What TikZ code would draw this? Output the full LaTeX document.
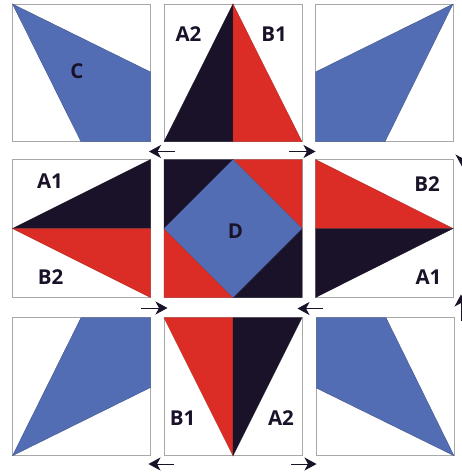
\documentclass[tikz,border=0pt]{standalone}
\usepackage{fontspec}
\setmainfont{Open Sans}
\usetikzlibrary{arrows.meta}
\definecolor{qblue}{HTML}{536DB5}
\definecolor{qred}{HTML}{DB2D26}
\definecolor{qdark}{HTML}{191228}
\definecolor{qgray}{HTML}{A8A8A8}
\tikzset{
  x=1pt,y=-1pt,
  cell/.style={draw=qgray,line width=0.9pt,fill=white},
  blue/.style={fill=qblue,draw=qblue!70!black,line width=0.3pt},
  red/.style={fill=qred,draw=qred!80!black,line width=0.3pt},
  dark/.style={fill=qdark,draw=qdark,line width=0.3pt},
  lab/.style={font=\bfseries\fontsize{20.5}{20.5}\selectfont,text=qdark,inner sep=0pt},
  mv/.style={draw=qdark,line width=1pt,-{Stealth[length=12pt,width=13pt,inset=3.5pt]},shorten >=-0.5pt}
}
\begin{document}
\begin{tikzpicture}
\useasboundingbox (0,0) rectangle (462,473);
\clip (0,0) rectangle (462,473);
\coordinate (a1s) at (175,151.5); \coordinate (a1e) at (149.5,151.5);
\coordinate (a2s) at (289,151.5); \coordinate (a2e) at (315,151.5);
\coordinate (a3s) at (141,308); \coordinate (a3e) at (167,308);
\coordinate (a4s) at (323,308.5); \coordinate (a4e) at (298,308.5);
\coordinate (a5s) at (174,464); \coordinate (a5e) at (149,464);
\coordinate (a6s) at (291,464); \coordinate (a6e) at (316,464);
\coordinate (a7s) at (462,140); \coordinate (a7e) at (462,166);
\coordinate (a8s) at (461,321); \coordinate (a8e) at (461,295);
% cells
\draw[cell] (12.5,4) rectangle (150.5,141.7);
\draw[cell] (164,4) rectangle (302,141.7);
\draw[cell] (315.5,4) rectangle (453,141.7);
\draw[cell] (12.5,159.5) rectangle (150.5,297.5);
\draw[cell] (164,159.5) rectangle (302,297.5);
\draw[cell] (315.5,159.5) rectangle (453,297.5);
\draw[cell] (12.5,317.7) rectangle (150.5,455.7);
\draw[cell] (164,317.7) rectangle (302,455.7);
\draw[cell] (316.3,317.7) rectangle (454,455.7);
% corner kites
\fill[blue] (12.5,4) -- (150.5,72) -- (150.5,141.7) -- (81,141.7) -- cycle;
\fill[blue] (453,4) -- (315.5,72) -- (315.5,141.7) -- (385,141.7) -- cycle;
\fill[blue] (12.5,455.7) -- (150.5,387.5) -- (150.5,317.7) -- (81,317.7) -- cycle;
\fill[blue] (454,455.7) -- (316.3,388) -- (316.3,317.7) -- (386,317.7) -- cycle;
% top
\fill[dark] (164,141.7) -- (233,4) -- (233,141.7) -- cycle;
\fill[red] (302,141.7) -- (233,4) -- (233,141.7) -- cycle;
% bottom
\fill[red] (164,317.7) -- (233,455.7) -- (233,317.7) -- cycle;
\fill[dark] (302,317.7) -- (233,455.7) -- (233,317.7) -- cycle;
% left
\fill[dark] (150.5,159.5) -- (12.5,228.5) -- (150.5,228.5) -- cycle;
\fill[red] (150.5,297.5) -- (12.5,228.5) -- (150.5,228.5) -- cycle;
% right
\fill[red] (315.5,159.5) -- (453,228.5) -- (315.5,228.5) -- cycle;
\fill[dark] (315.5,297.5) -- (453,228.5) -- (315.5,228.5) -- cycle;
% centre
\fill[dark] (164,159.5) -- (233,159.5) -- (164,228.5) -- cycle;
\fill[red] (302,159.5) -- (233,159.5) -- (302,228.5) -- cycle;
\fill[red] (164,297.5) -- (233,297.5) -- (164,228.5) -- cycle;
\fill[dark] (302,297.5) -- (233,297.5) -- (302,228.5) -- cycle;
\fill[blue] (233,159.5) -- (302,228.5) -- (233,297.5) -- (164,228.5) -- cycle;
% labels
\node[lab] (lc) at (77,71) {C};
\node[lab] (ld) at (235.5,231) {D};
\node[lab] (la2t) at (188.5,34.5) {A2};
\node[lab] (lb1t) at (274,34.5) {B1};
\node[lab] (la1l) at (50,181) {A1};
\node[lab] (lb2l) at (50.5,277.5) {B2};
\node[lab] (lb2r) at (427,184.5) {B2};
\node[lab] (la1r) at (428.5,277.5) {A1};
\node[lab] (lb1b) at (182.5,418.5) {B1};
\node[lab] (la2b) at (281,418) {A2};
% arrows
\draw[mv] (a1s) -- (a1e);
\draw[mv] (a2s) -- (a2e);
\draw[mv] (a3s) -- (a3e);
\draw[mv] (a4s) -- (a4e);
\draw[mv] (a5s) -- (a5e);
\draw[mv] (a6s) -- (a6e);
\draw[mv] (a7s) -- (a7e);
\draw[mv] (a8s) -- (a8e);
\end{tikzpicture}
\end{document}
